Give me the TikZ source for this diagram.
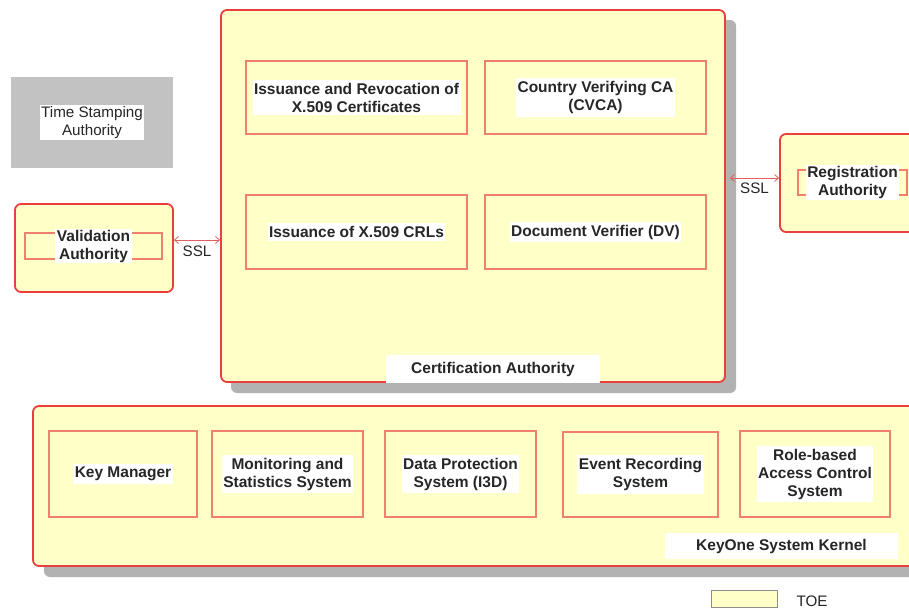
\documentclass[tikz,border=0pt]{standalone}
\usepackage{fontspec}
\setmainfont{Liberation Sans}
\usetikzlibrary{arrows.meta}
\definecolor{toefill}{RGB}{255,255,200}
\definecolor{edgered}{RGB}{236,62,62}
\definecolor{boxred}{RGB}{240,128,110}
\definecolor{shade}{RGB}{178,178,178}
\definecolor{tsagray}{RGB}{194,194,194}
\definecolor{linkred}{RGB}{225,95,95}

\begin{document}
\begin{tikzpicture}[x=1pt,y=-1pt,
  every node/.style={font=\fontsize{15.5}{18}\selectfont\bfseries, align=center, text=black!85},
  outer/.style={draw=edgered, line width=1.8pt, fill=toefill, rounded corners=6pt, inner sep=0pt},
  shadowfill/.style={fill=shade, rounded corners=6pt},
  part/.style={draw=boxred, line width=1.3pt, inner sep=0pt},
  tag/.style={fill=white, inner xsep=1.5pt, inner ysep=3pt},
  plain/.style={font=\fontsize{15.2}{18}\selectfont},
  link/.style={draw=linkred, line width=0.8pt,
    {Straight Barb[length=4pt,width=7pt]}-{Straight Barb[length=4pt,width=7pt]}}
]
\useasboundingbox (0,0) rectangle (909,609);
\clip (0,0) rectangle (909,609);
\fill[white] (0,0) rectangle (909,609);

% ---------- Time Stamping Authority ----------
\node[fill=tsagray, minimum width=162pt, minimum height=91pt] (tsa) at (92,122.5) {};
\node[tag, plain, inner ysep=1pt] (tsalbl) at (tsa.center) {Time Stamping\\Authority};

% ---------- Validation Authority ----------
\node[outer, minimum width=158pt, minimum height=88pt] (va) at (94,248) {};
\node[part, minimum width=137pt, minimum height=26pt] (vain) at (93.5,246) {};
\node[tag, inner ysep=1pt] (valbl) at (vain.center) {Validation\\Authority};

% ---------- Certification Authority ----------
\fill[shadowfill] (231,20) rectangle (736,393);
\node[outer, minimum width=504pt, minimum height=372pt] (ca) at (473,196) {};
\node[part, minimum width=221pt, minimum height=73pt] (iss) at (356.5,97.5) {};
\node[part, minimum width=221pt, minimum height=73pt] (cvca) at (595.5,97.5) {};
\node[part, minimum width=221pt, minimum height=74pt] (crl) at (356.5,232) {};
\node[part, minimum width=221pt, minimum height=74pt] (dv) at (595.5,232) {};
\node[tag] (isslbl) at (iss.center) {Issuance and Revocation of\\X.509 Certificates};
\node[tag] (cvcalbl) at (cvca.center) {Country Verifying CA\\(CVCA)};
\node[tag] (crllbl) at (crl.center) {Issuance of X.509 CRLs};
\node[tag] (dvlbl) at (dv.center) {Document Verifier (DV)};
\node[fill=white, minimum width=214pt, minimum height=28pt, inner sep=0pt] (calbl) at (493,369) {Certification Authority};

% ---------- Registration Authority ----------
\node[outer, minimum width=146pt, minimum height=98pt] (ra) at (853,183) {};
\node[part, minimum width=109pt, minimum height=25pt] (rain) at (852.5,182.5) {};
\node[tag, inner ysep=1pt] (ralbl) at (rain.center) {Registration\\Authority};

% ---------- SSL links ----------
\draw[link] ([yshift=8pt]va.east) -- ([yshift=8pt]va.east -| ca.west)
  node[midway, below=2.5pt, plain] (ssl1) {SSL};
\draw[link] ([yshift=5pt]ra.west) -- ([xshift=4pt,yshift=5pt]ra.west -| ca.east)
  node[midway, below=1.5pt, plain] (ssl2) {SSL};

% ---------- KeyOne System Kernel ----------
\fill[shadowfill] (44,417) rectangle (930,577);
\node[outer, minimum width=886pt, minimum height=160pt] (kern) at (476,486) {};
\node[part, minimum width=148pt, minimum height=86pt] (km) at (123,474) {};
\node[part, minimum width=151pt, minimum height=86pt] (mon) at (287.5,474) {};
\node[part, minimum width=151pt, minimum height=86pt] (dp) at (460.5,474) {};
\node[part, minimum width=155pt, minimum height=85pt] (ev) at (640.5,474.5) {};
\node[part, minimum width=150pt, minimum height=86pt] (rb) at (815,474) {};
\node[tag] (kmlbl) at (km.center) {Key Manager};
\node[tag] (monlbl) at (mon.center) {Monitoring and\\Statistics System};
\node[tag] (dplbl) at (dp.center) {Data Protection\\System (I3D)};
\node[tag] (evlbl) at (ev.center) {Event Recording\\System};
\node[tag] (rblbl) at (rb.center) {Role-based\\Access Control\\System};
\node[fill=white, minimum width=233pt, minimum height=26pt, inner sep=0pt] (kernlbl) at (781.5,546) {KeyOne System Kernel};

% ---------- Legend ----------
\node[fill=toefill, draw=black!45, line width=0.8pt, minimum width=66pt, minimum height=17pt, inner sep=0pt] (legbox) at (744,598.5) {};
\node[plain, anchor=west] (legtxt) at (793,601) {TOE};
\end{tikzpicture}
\end{document}
